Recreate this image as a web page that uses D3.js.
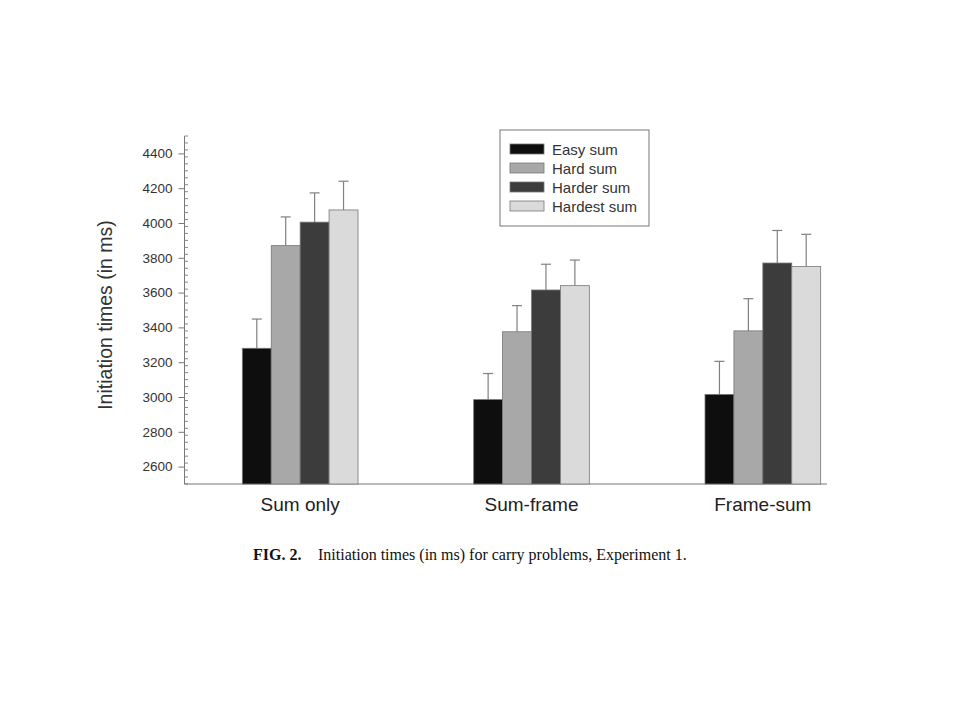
<!DOCTYPE html>
<html>
<head>
<meta charset="utf-8">
<script src="https://cdn.jsdelivr.net/npm/d3@7"></script>
<style>
  body { margin: 0; background: #fff; }
  svg { display: block; }
</style>
</head>
<body>
<div id="vis"></div>
<script>
// chart data
const groups = ['Sum only', 'Sum-frame', 'Frame-sum'];
const series = ['Easy sum', 'Hard sum', 'Harder sum', 'Hardest sum'];
const means = [
  [3280, 3870, 4005, 4075],
  [2985, 3375, 3615, 3640],
  [3015, 3380, 3770, 3750]
];
const errs = [
  [168, 165, 168, 165],
  [150, 150, 148, 147],
  [190, 185, 187, 185]
];
const yTicks = [2600, 2800, 3000, 3200, 3400, 3600, 3800, 4000, 4200, 4400];
const fills = ['#0e0e0e', '#a8a8a8', '#3c3c3c', '#dadada'];

let width = 960, height = 720;

let svg = d3.select('#vis')
  .append('svg')
  .attr('width', width)
  .attr('height', height);

// scales
let x = d3.scaleBand()
  .domain(groups)
  .range([184.5, 878.5])
  .paddingInner(0.5)
  .paddingOuter(0.25);

let xs = d3.scaleBand()
  .domain(series)
  .range([0, x.bandwidth()]);

let y = d3.scaleLinear()
  .domain([2500, 4500])
  .range([484, 136]);

// y axis: major ticks on the left, minor ticks on the right
let yAxis = svg.append('g')
  .attr('transform', 'translate(184.5,0)')
  .call(d3.axisLeft(y).tickValues(yTicks).tickSize(6).tickPadding(6).tickFormat(d3.format('d')));
yAxis.select('.domain').attr('stroke', '#777').attr('d', 'M0,' + y(2500) + 'V' + y(4500));
yAxis.selectAll('.tick line').attr('stroke', '#777');
yAxis.selectAll('.tick text')
  .attr('fill', '#333')
  .style('font-family', 'Arial, "Liberation Sans", sans-serif')
  .style('font-size', '13.5px');

let minor = d3.range(2500, 4501, 40).filter(v => yTicks.indexOf(v) < 0);
svg.append('g')
  .selectAll('line')
  .data(minor)
  .join('line')
  .attr('x1', 184.5)
  .attr('x2', 188)
  .attr('y1', d => y(d))
  .attr('y2', d => y(d))
  .attr('stroke', '#888')
  .attr('stroke-width', 1);

// x axis line
svg.append('line')
  .attr('x1', 184.5)
  .attr('x2', 827)
  .attr('y1', y(2500))
  .attr('y2', y(2500))
  .attr('stroke', '#777')
  .attr('stroke-width', 1.2);

// bars + error bars
let g = svg.append('g')
  .selectAll('g')
  .data(groups)
  .join('g')
  .attr('transform', d => 'translate(' + x(d) + ',0)');

g.each(function(grp, gi) {
  let rows = series.map((s, si) => ({ s: s, si: si, v: means[gi][si], e: errs[gi][si] }));
  let sel = d3.select(this);

  sel.selectAll('line.err')
    .data(rows)
    .join('line')
    .attr('class', 'err')
    .attr('x1', d => xs(d.s) + xs.bandwidth() / 2)
    .attr('x2', d => xs(d.s) + xs.bandwidth() / 2)
    .attr('y1', d => y(d.v))
    .attr('y2', d => y(d.v + d.e))
    .attr('stroke', '#808080')
    .attr('stroke-width', 1.2);

  sel.selectAll('line.cap')
    .data(rows)
    .join('line')
    .attr('class', 'cap')
    .attr('x1', d => xs(d.s) + xs.bandwidth() / 2 - 5)
    .attr('x2', d => xs(d.s) + xs.bandwidth() / 2 + 5)
    .attr('y1', d => y(d.v + d.e))
    .attr('y2', d => y(d.v + d.e))
    .attr('stroke', '#808080')
    .attr('stroke-width', 1.2);

  sel.selectAll('rect')
    .data(rows)
    .join('rect')
    .attr('x', d => xs(d.s))
    .attr('y', d => y(d.v))
    .attr('width', xs.bandwidth())
    .attr('height', d => y(2500) - y(d.v))
    .attr('fill', d => fills[d.si])
    .attr('stroke', '#777')
    .attr('stroke-width', 0.8);
});

// group labels
svg.append('g')
  .selectAll('text')
  .data(groups)
  .join('text')
  .attr('x', d => x(d) + x.bandwidth() / 2)
  .attr('y', 511)
  .attr('text-anchor', 'middle')
  .attr('fill', '#222')
  .style('font-family', 'Arial, "Liberation Sans", sans-serif')
  .style('font-size', '19px')
  .text(d => d);

// y axis title
svg.append('text')
  .attr('transform', 'translate(112,315) rotate(-90)')
  .attr('text-anchor', 'middle')
  .attr('fill', '#333')
  .style('font-family', 'Arial, "Liberation Sans", sans-serif')
  .style('font-size', '19.5px')
  .text('Initiation times (in ms)');

// legend
let legend = svg.append('g').attr('transform', 'translate(500,130)');
legend.append('rect')
  .attr('width', 149)
  .attr('height', 96)
  .attr('fill', '#fff')
  .attr('stroke', '#777')
  .attr('stroke-width', 1);

let li = legend.selectAll('g')
  .data(series)
  .join('g')
  .attr('transform', (d, i) => 'translate(10,' + (14 + i * 19) + ')');
li.append('rect')
  .attr('width', 34)
  .attr('height', 10)
  .attr('fill', (d, i) => fills[i])
  .attr('stroke', '#777')
  .attr('stroke-width', 0.8);
li.append('text')
  .attr('x', 42)
  .attr('y', 10.5)
  .attr('fill', '#333')
  .style('font-family', 'Arial, "Liberation Sans", sans-serif')
  .style('font-size', '15px')
  .text(d => d);

// caption
let cap = svg.append('text')
  .attr('x', 253)
  .attr('y', 560)
  .attr('fill', '#111')
  .style('font-family', '"Liberation Serif", "Times New Roman", serif')
  .style('font-size', '16px');
cap.append('tspan').style('font-weight', 'bold').text('FIG. 2.');
cap.append('tspan').attr('x', 318).text('Initiation times (in ms) for carry problems, Experiment 1.');
</script>
</body>
</html>
